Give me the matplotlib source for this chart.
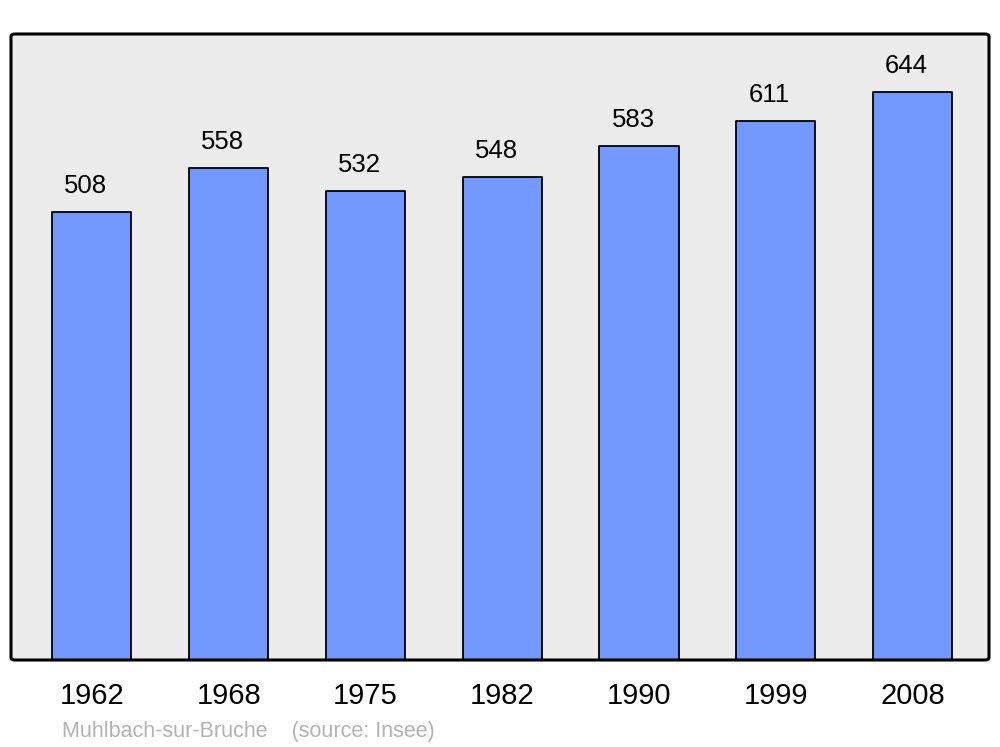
import matplotlib
matplotlib.use("Agg")
import matplotlib.pyplot as plt
from matplotlib.patches import FancyBboxPatch

years = ["1962", "1968", "1975", "1982", "1990", "1999", "2008"]
population = [508, 558, 532, 548, 583, 611, 644]
footer = "Muhlbach-sur-Bruche    (source: Insee)"

plt.rcParams['font.family'] = ['Liberation Sans', 'DejaVu Sans']

fig = plt.figure(figsize=(10, 7.47), dpi=100)
ax = fig.add_axes([0.011, 1 - 660 / 747, 0.978, 626 / 747])
ax.set_facecolor('#ececec')

x = list(range(len(years)))
bars = ax.bar(x, population, width=0.578, color='#7399ff', edgecolor='black',
              linewidth=1.3, zorder=2)
for b in bars:
    b.set_joinstyle('round')

ax.set_xlim(-0.592, 6.559)
ax.set_ylim(0, 710)

for xi, v in zip(x, population):
    ax.annotate(str(v), (xi - 0.044, v), xytext=(0, 26), textcoords='offset pixels',
                ha='center', va='center', fontsize=18.5, color='black')

ax.set_xticks(x)
ax.set_xticklabels(years, fontsize=21)
ax.tick_params(axis='x', length=0, pad=16)
ax.set_yticks([])
for s in ax.spines.values():
    s.set_visible(False)

frame = FancyBboxPatch((0, 0), 1, 1, boxstyle="round,pad=0,rounding_size=0.004",
                       transform=ax.transAxes, facecolor='none', edgecolor='black',
                       linewidth=2.2, clip_on=False, zorder=5)
ax.add_patch(frame)

fig.text(62 / 1000, 1 - 731 / 747, footer, fontsize=15.5, color='#b3b3b3',
         ha='left', va='center')

fig.savefig('out.png', dpi=100)
